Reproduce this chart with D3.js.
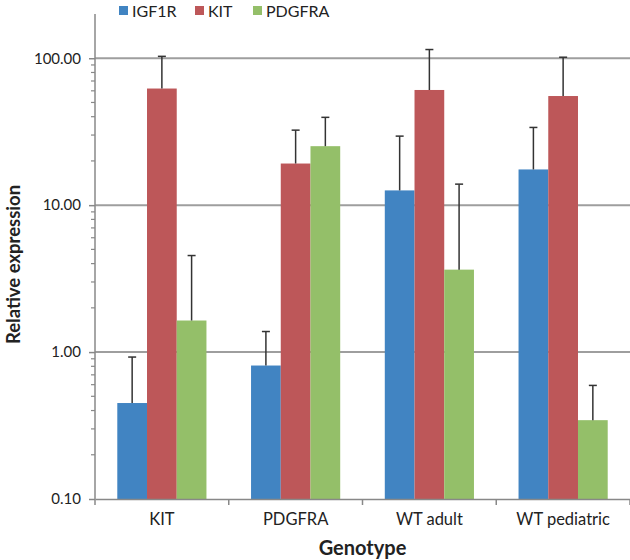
<!DOCTYPE html>
<html><head><meta charset="utf-8">
<script src="https://cdn.jsdelivr.net/npm/d3@7/dist/d3.min.js"></script>
<style>body{margin:0;background:#fff}svg{display:block}text{font-family:Lato,"Open Sans",sans-serif;fill:#222}</style>
</head><body><svg id="c" width="630" height="560"></svg>
<script>
const categories = ["KIT", "PDGFRA", "WT adult", "WT pediatric"];
const seriesNames = ["IGF1R", "KIT", "PDGFRA"];
const igf1r = [0.45, 0.81, 12.6, 17.5];
const kit = [62.2, 19.2, 60.8, 55.3];
const pdgfra = [1.64, 25.2, 3.64, 0.344];
const igf1rErr = [0.925, 1.38, 29.5, 33.8];
const kitErr = [103, 32.4, 114.6, 101.6];
const pdgfraErr = [4.54, 39.6, 13.9, 0.593];
const yTicks = [0.1, 1, 10, 100];
const colors = ["#4184C2", "#BD5759", "#94BF69"];

const values = [igf1r, kit, pdgfra];
const errs = [igf1rErr, kitErr, pdgfraErr];

const svg = d3.select("#c");
const mLeft = 95, mRight = 630, mTop = 14, mBottom = 499;

const x = d3.scaleBand().domain(categories).range([mLeft, mRight]).paddingInner(0).paddingOuter(0);
const bw = x.bandwidth() / 4.5;
const xs = d3.scaleBand().domain(seriesNames).range([bw * 0.75, bw * 3.75]).padding(0);
const y = d3.scaleLog().domain([0.1, 200]).range([mBottom, mTop]);

// gridlines
svg.append("g").selectAll("line").data(yTicks.slice(1)).join("line")
  .attr("x1", mLeft).attr("x2", mRight).attr("y1", d => y(d)).attr("y2", d => y(d))
  .attr("stroke", "#9e9e9e").attr("stroke-width", 2);

// bars
const data = [];
seriesNames.forEach((s, si) => categories.forEach((c, ci) => data.push({s, si, c, v: values[si][ci], e: errs[si][ci]})));
svg.append("g").selectAll("rect").data(data).join("rect")
  .attr("x", d => x(d.c) + xs(d.s)).attr("width", xs.bandwidth())
  .attr("y", d => y(d.v)).attr("height", d => mBottom - y(d.v))
  .attr("fill", d => colors[d.si]);

// error bars
const eg = svg.append("g").attr("stroke", "#333").attr("stroke-width", 1.5);
data.forEach(d => {
  const cx = x(d.c) + xs(d.s) + xs.bandwidth() / 2;
  eg.append("line").attr("x1", cx).attr("x2", cx).attr("y1", y(d.v)).attr("y2", y(d.e));
  eg.append("line").attr("x1", cx - 4).attr("x2", cx + 4).attr("y1", y(d.e)).attr("y2", y(d.e));
});

// y axis
const minor = [];
for (let dec = 0.1; dec < 100; dec *= 10) for (let k = 2; k <= 9; k++) minor.push(+(dec * k).toPrecision(3));
const yAxis = d3.axisLeft(y).tickValues(yTicks).tickFormat(d3.format(".2f")).tickSize(6).tickPadding(8);
const ya = svg.append("g").attr("transform", `translate(${mLeft},0)`).call(yAxis);
ya.select(".domain").attr("stroke", "#888").attr("stroke-width", 1.5).attr("d", `M0,${mTop}V${mBottom}`);
ya.selectAll(".tick line").attr("stroke", "#888").attr("stroke-width", 1.5);
ya.selectAll(".tick text").attr("font-size", 15).attr("fill", "#222").style("font-family", "Lato, sans-serif");
svg.append("g").selectAll("line").data(minor).join("line")
  .attr("x1", mLeft - 4).attr("x2", mLeft).attr("y1", d => y(d)).attr("y2", d => y(d))
  .attr("stroke", "#888").attr("stroke-width", 1.2);

// x axis
const xAxis = d3.axisBottom(x).tickSize(0).tickPadding(14);
const xa = svg.append("g").attr("transform", `translate(0,${mBottom})`).call(xAxis);
xa.select(".domain").attr("stroke", "#888").attr("stroke-width", 1.5);
xa.selectAll(".tick text").attr("font-size", 16.5).attr("fill", "#222").style("font-family", "Lato, sans-serif");
const bounds = categories.map(c => x(c)).concat([mRight]);
svg.append("g").selectAll("line").data(bounds).join("line")
  .attr("x1", d => d).attr("x2", d => d).attr("y1", mBottom).attr("y2", mBottom + 6)
  .attr("stroke", "#888").attr("stroke-width", 1.5);

// titles
svg.append("text").attr("x", (mLeft + mRight) / 2).attr("y", 555).attr("text-anchor", "middle")
  .attr("font-size", 20).attr("font-weight", "bold").text("Genotype");
svg.append("text").attr("transform", `translate(20,${(mTop + mBottom) / 2 + 8}) rotate(-90)`).attr("text-anchor", "middle")
  .attr("font-size", 18.5).attr("font-weight", "bold").text("Relative expression");

// legend
const legX = [119, 195, 253];
const lg = svg.append("g");
seriesNames.forEach((s, i) => {
  lg.append("rect").attr("x", legX[i]).attr("y", 6).attr("width", 9).attr("height", 9).attr("fill", colors[i]);
  lg.append("text").attr("x", legX[i] + 13).attr("y", 16.5).attr("font-size", 16).text(s);
});
</script></body></html>
